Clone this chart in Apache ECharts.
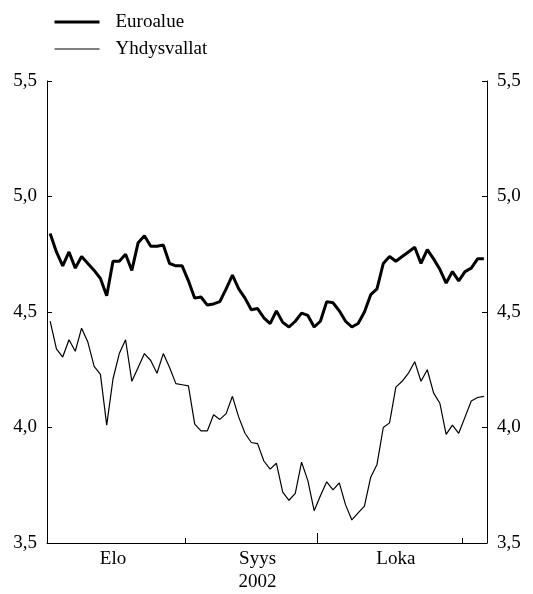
<!DOCTYPE html>
<html>
<head>
<meta charset="utf-8">
<script src="https://cdn.jsdelivr.net/npm/echarts@6/dist/echarts.min.js"></script>
<style>
	html, body { margin: 0; padding: 0; background: #fff; }
	#main { width: 533px; height: 594px; }
</style>
</head>
<body>
<div id="main"></div>
<script>
// arkipäivät elo-marraskuu 2002
var dates = [
	'2002-08-01','2002-08-02','2002-08-05','2002-08-06','2002-08-07','2002-08-08','2002-08-09',
	'2002-08-12','2002-08-13','2002-08-14','2002-08-15','2002-08-16','2002-08-19','2002-08-20',
	'2002-08-21','2002-08-22','2002-08-23','2002-08-26','2002-08-27','2002-08-28','2002-08-29','2002-08-30',
	'2002-09-02','2002-09-03','2002-09-04','2002-09-05','2002-09-06','2002-09-09','2002-09-10',
	'2002-09-11','2002-09-12','2002-09-13','2002-09-16','2002-09-17','2002-09-18','2002-09-19',
	'2002-09-20','2002-09-23','2002-09-24','2002-09-25','2002-09-26','2002-09-27','2002-09-30',
	'2002-10-01','2002-10-02','2002-10-03','2002-10-04','2002-10-07','2002-10-08','2002-10-09',
	'2002-10-10','2002-10-11','2002-10-14','2002-10-15','2002-10-16','2002-10-17','2002-10-18',
	'2002-10-21','2002-10-22','2002-10-23','2002-10-24','2002-10-25','2002-10-28','2002-10-29',
	'2002-10-30','2002-10-31',
	'2002-11-01','2002-11-04','2002-11-05','2002-11-06'
];

var euroalue = [
	4.84, 4.76, 4.70, 4.76, 4.69, 4.74, 4.71, 4.68, 4.645, 4.57,
	4.72, 4.72, 4.75, 4.68, 4.80, 4.83, 4.785, 4.785, 4.79, 4.71,
	4.70, 4.70, 4.635, 4.56, 4.565, 4.53, 4.535, 4.545, 4.60, 4.66,
	4.60, 4.56, 4.51, 4.515, 4.475, 4.45, 4.505, 4.455, 4.435, 4.46,
	4.495, 4.485, 4.435, 4.46, 4.545, 4.54, 4.505, 4.46, 4.435, 4.45,
	4.50, 4.575, 4.60, 4.71, 4.74, 4.72, 4.74, 4.76, 4.78, 4.71,
	4.77, 4.73, 4.685, 4.625, 4.675, 4.635, 4.675, 4.69, 4.73, 4.73
];

var yhdysvallat = [
	4.46, 4.34, 4.305, 4.38, 4.33, 4.43, 4.37, 4.265, 4.23, 4.01,
	4.21, 4.32, 4.38, 4.20, 4.26, 4.32, 4.29, 4.235, 4.32, 4.26,
	4.19, 4.185, 4.18, 4.015, 3.985, 3.985, 4.055, 4.035, 4.06, 4.135,
	4.045, 3.975, 3.935, 3.93, 3.855, 3.82, 3.845, 3.72, 3.685, 3.715,
	3.85, 3.77, 3.64, 3.705, 3.765, 3.73, 3.76, 3.665, 3.60, 3.63,
	3.66, 3.785, 3.84, 4.00, 4.02, 4.175, 4.20, 4.235, 4.285, 4.20,
	4.25, 4.15, 4.105, 3.97, 4.01, 3.975, 4.045, 4.115, 4.13, 4.135
];

var yTicks = [3.5, 4.0, 4.5, 5.0, 5.5];

// kuukauden alut (tikit) ja nimiöiden paikat
var monthStarts = [22, 43, 66];
var monthLabels = { 10: 'Elo', 33: 'Syys\n2002', 55: 'Loka' };

var chart = echarts.init(document.getElementById('main'), null, { width: 533, height: 594 });

var fontFam = '"Liberation Serif", "DejaVu Serif", serif';

var yAxisBase = {
	type: 'value',
	min: yTicks[0],
	max: yTicks[yTicks.length - 1],
	interval: 0.5,
	axisLine: { show: true, lineStyle: { color: '#000', width: 1 } },
	axisTick: { show: true, inside: true, length: 5, lineStyle: { color: '#000' } },
	splitLine: { show: false },
	axisLabel: {
		color: '#000',
		fontFamily: fontFam,
		fontSize: 19,
		margin: 10,
		formatter: function (v) { return v.toFixed(1).replace('.', ','); }
	}
};

var option = {
	animation: false,
	backgroundColor: '#fff',
	textStyle: { fontFamily: fontFam },
	legend: {
		orient: 'vertical',
		left: 48,
		top: 7,
		itemWidth: 45,
		itemHeight: 20,
		itemGap: 7,
		itemStyle: { color: 'transparent', borderWidth: 0, opacity: 0 },
		textStyle: {
			color: '#000',
			fontFamily: fontFam,
			fontSize: 19,
			lineHeight: 20,
			padding: [0, 0, 0, 11]
		},
		data: [
			{ name: 'Euroalue', lineStyle: { color: '#000', width: 3 } },
			{ name: 'Yhdysvallat', lineStyle: { color: '#000', width: 1 } }
		]
	},
	grid: {
		left: 47,
		right: 46,
		top: 81,
		bottom: 49
	},
	xAxis: [
		{
			type: 'category',
			data: dates,
			boundaryGap: true,
			axisLine: { show: true, lineStyle: { color: '#000', width: 1 } },
			axisTick: {
				show: true,
				inside: true,
				length: 5,
				interval: function (idx) { return monthStarts.indexOf(idx) >= 0; },
				lineStyle: { color: '#000' }
			},
			axisLabel: {
				color: '#000',
				fontFamily: fontFam,
				fontSize: 19,
				lineHeight: 23,
				margin: 5,
				interval: function (idx) { return monthLabels[idx] !== undefined; },
				formatter: function (v, idx) { return monthLabels[idx] || ''; }
			},
			splitLine: { show: false }
		},
		{
			// korkeampi tikki syys/loka-rajalla
			type: 'value',
			position: 'bottom',
			min: 0,
			max: dates.length,
			interval: monthStarts[1],
			axisLine: { show: false },
			axisTick: { show: true, inside: true, length: 10, lineStyle: { color: '#000' } },
			axisLabel: { show: false },
			splitLine: { show: false }
		}
	],
	yAxis: [
		Object.assign({}, yAxisBase, { position: 'left' }),
		Object.assign({}, yAxisBase, { position: 'right' })
	],
	series: [
		{
			name: 'Euroalue',
			type: 'line',
			xAxisIndex: 0,
			yAxisIndex: 0,
			symbol: 'none',
			color: '#000',
			lineStyle: { color: '#000', width: 3 },
			data: euroalue
		},
		{
			name: 'Yhdysvallat',
			type: 'line',
			xAxisIndex: 0,
			yAxisIndex: 0,
			symbol: 'none',
			color: '#000',
			lineStyle: { color: '#000', width: 1.2 },
			data: yhdysvallat
		}
	]
};

chart.setOption(option);
</script>
</body>
</html>
